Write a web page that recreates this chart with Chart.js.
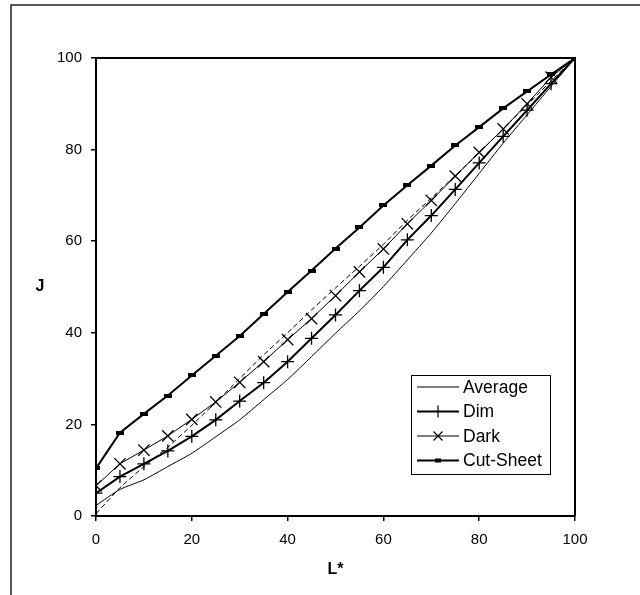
<!DOCTYPE html>
<html>
<head>
<meta charset="utf-8">
<script src="https://cdn.jsdelivr.net/npm/chart.js@4/dist/chart.umd.min.js"></script>
<style>
  html, body { margin: 0; padding: 0; background: #fff; }
  #wrap { width: 640px; height: 595px; position: relative; }
</style>
</head>
<body>
<div id="wrap"><canvas id="c" width="640" height="595"></canvas></div>
<script>
// ---- data ----
const lStar     = [0, 5, 10, 15, 20, 25, 30, 35, 40, 45, 50, 55, 60, 65, 70, 75, 80, 85, 90, 95, 100];
const average   = [2.3, 5.8, 7.9, 10.8, 13.7, 17.3, 21.0, 25.4, 29.8, 34.8, 39.9, 44.8, 50.1, 55.9, 61.8, 68.2, 74.8, 81.4, 87.6, 93.8, 100];
const dim       = [5.0, 8.6, 11.4, 14.2, 17.4, 21.0, 25.1, 29.1, 33.7, 38.8, 43.9, 49.2, 54.3, 60.3, 65.6, 71.3, 77.1, 82.9, 88.6, 94.4, 100];
const dark      = [6.6, 11.4, 14.4, 17.5, 21.1, 24.9, 29.2, 33.7, 38.5, 43.1, 48.1, 53.3, 58.3, 63.8, 68.9, 74.2, 79.4, 84.5, 90.0, 95.8, 100];
const cutSheet  = [10.4, 18.2, 22.3, 26.3, 30.7, 35.0, 39.3, 44.1, 48.9, 53.6, 58.4, 63.0, 67.8, 72.2, 76.5, 80.9, 84.9, 89.0, 92.7, 96.4, 100];
const reference = [0.5, 6.2, 10.8, 15.0, 19.8, 24.8, 30.0, 35.2, 40.0, 45.0, 49.8, 54.5, 59.3, 64.6, 69.4, 74.3, 79.3, 84.5, 89.7, 95.0, 100];
const legendLabels = ['Average', 'Dim', 'Dark', 'Cut-Sheet'];
const xTitle = 'L*';
const yTitle = 'J';

const pts = arr => arr.map((v, i) => ({ x: lStar[i], y: v }));

// dash-shaped marker for Cut-Sheet
const dashMarker = document.createElement('canvas');
dashMarker.width = 8; dashMarker.height = 4;
(function () { const g = dashMarker.getContext('2d'); g.fillStyle = '#000'; g.fillRect(0, 0, 8, 4); })();

const FONT = "'Liberation Sans', Arial, sans-serif";
Chart.defaults.font.family = FONT;
Chart.defaults.color = '#000';

const decor = {
  id: 'decor',
  beforeDraw(chart) {
    const ctx = chart.ctx;
    ctx.save();
    ctx.fillStyle = '#fff';
    ctx.fillRect(0, 0, chart.width, chart.height);
    ctx.strokeStyle = '#222';
    ctx.lineWidth = 1.5;
    ctx.beginPath();
    ctx.moveTo(11, 595); ctx.lineTo(11, 5); ctx.lineTo(640, 5);
    ctx.stroke();
    ctx.restore();
  },
  afterDraw(chart) {
    const ctx = chart.ctx;
    const a = chart.chartArea;
    ctx.save();
    ctx.strokeStyle = '#000';
    ctx.lineWidth = 2;
    ctx.beginPath();
    ctx.moveTo(a.left, a.top); ctx.lineTo(a.right, a.top); ctx.lineTo(a.right, a.bottom);
    ctx.stroke();
    ctx.fillStyle = '#000';
    ctx.font = 'bold 16px ' + FONT;
    ctx.textAlign = 'center';
    ctx.textBaseline = 'middle';
    ctx.fillText(xTitle, (a.left + a.right) / 2, 570);
    ctx.fillText(yTitle, 40, (a.top + a.bottom) / 2);
    // legend
    const lx = 411, ly = 375, lw = 139, lh = 99;
    ctx.fillStyle = '#fff';
    ctx.fillRect(lx, ly, lw, lh);
    ctx.strokeStyle = '#000';
    ctx.lineWidth = 1;
    ctx.strokeRect(lx + 0.5, ly + 0.5, lw, lh);
    const rows = [387, 411.5, 436, 460.5];
    const styles = [
      { w: 1, m: null },
      { w: 2, m: 'cross' },
      { w: 1, m: 'x' },
      { w: 2, m: 'rect' }
    ];
    ctx.font = '17.5px ' + FONT;
    ctx.textAlign = 'left';
    rows.forEach((y, i) => {
      const s = styles[i];
      ctx.strokeStyle = '#000';
      ctx.lineWidth = s.w;
      ctx.beginPath(); ctx.moveTo(417, y); ctx.lineTo(459, y); ctx.stroke();
      ctx.lineWidth = 1.2;
      if (s.m === 'cross') {
        ctx.beginPath(); ctx.moveTo(438, y - 6); ctx.lineTo(438, y + 6);
        ctx.moveTo(432, y); ctx.lineTo(444, y); ctx.stroke();
      } else if (s.m === 'x') {
        ctx.beginPath(); ctx.moveTo(433.5, y - 4.5); ctx.lineTo(442.5, y + 4.5);
        ctx.moveTo(442.5, y - 4.5); ctx.lineTo(433.5, y + 4.5); ctx.stroke();
      } else if (s.m === 'rect') {
        ctx.fillStyle = '#000'; ctx.fillRect(435, y - 2, 6, 4);
      }
      ctx.fillStyle = '#000';
      ctx.fillText(legendLabels[i], 463, y + 1);
    });
    ctx.restore();
  }
};

new Chart(document.getElementById('c'), {
  type: 'scatter',
  data: {
    datasets: [
      { label: 'ref', data: pts(reference), showLine: true, borderColor: '#000', borderWidth: 1, borderDash: [5, 3], pointRadius: 0, tension: 0 },
      { label: legendLabels[0], data: pts(average), showLine: true, borderColor: '#000', borderWidth: 1, pointRadius: 0, tension: 0.2 },
      { label: legendLabels[1], data: pts(dim), showLine: true, borderColor: '#000', borderWidth: 2, pointStyle: 'cross', pointRadius: 6.5, pointBorderWidth: 1.3, pointBorderColor: '#000', tension: 0 },
      { label: legendLabels[2], data: pts(dark), showLine: true, borderColor: '#000', borderWidth: 1, pointStyle: 'crossRot', pointRadius: 8, pointBorderWidth: 1.3, pointBorderColor: '#000', tension: 0 },
      { label: legendLabels[3], data: pts(cutSheet), showLine: true, borderColor: '#000', borderWidth: 2, pointStyle: dashMarker, pointRadius: 4, tension: 0 }
    ]
  },
  options: {
    responsive: false,
    animation: false,
    devicePixelRatio: 1,
    layout: { padding: { left: 0, top: 58, right: 65, bottom: 0 } },
    plugins: { legend: { display: false }, tooltip: { enabled: false } },
    scales: {
      x: {
        type: 'linear', min: 0, max: 100,
        afterFit(s) { s.height = 79; },
        ticks: { stepSize: 20, padding: 10, font: { size: 15 }, color: '#000' },
        grid: { drawOnChartArea: false, drawTicks: true, tickLength: 5, color: '#000', lineWidth: 1.5 },
        border: { display: true, color: '#000', width: 2 }
      },
      y: {
        type: 'linear', min: 0, max: 100,
        afterFit(s) { s.width = 96; },
        ticks: { stepSize: 20, padding: 9, font: { size: 15 }, color: '#000' },
        grid: { drawOnChartArea: false, drawTicks: true, tickLength: 5, color: '#000', lineWidth: 1.5 },
        border: { display: true, color: '#000', width: 2 }
      }
    }
  },
  plugins: [decor]
});
</script>
</body>
</html>
